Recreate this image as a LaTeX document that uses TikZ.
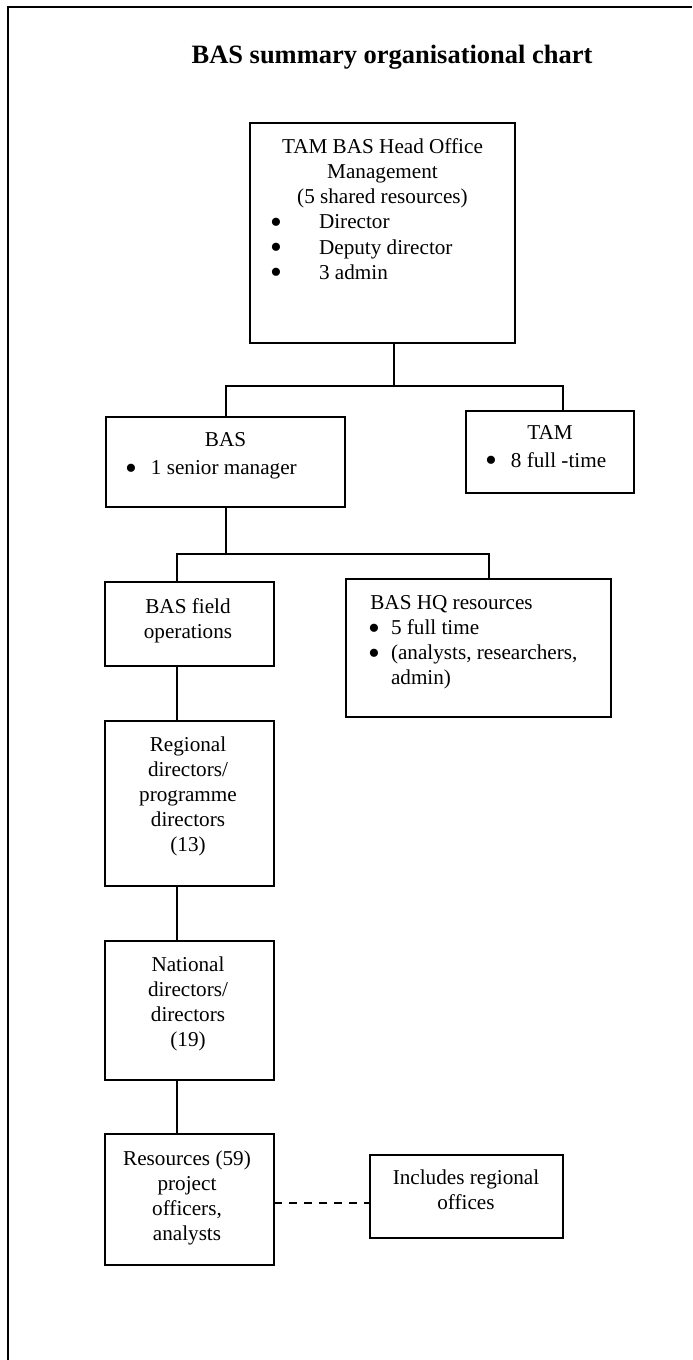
\documentclass[tikz,border=0pt]{standalone}
\usepackage{fontspec}
\setmainfont{Liberation Serif}
\usepackage{tikz}
\tikzstyle{orgbox}=[rectangle,draw=black,line width=0.8pt,inner sep=0pt,outer sep=0pt]
\tikzstyle{boxtext}=[inner sep=0pt,align=center,anchor=north,font=\fontsize{12}{14.2}\selectfont]
\tikzstyle{link}=[line width=0.6pt]
\tikzstyle{dashlink}=[line width=0.8pt,dash pattern=on 4.5pt off 4pt]
\newcommand{\bul}[1]{\makebox[#1][l]{\hspace*{-1.2pt}\smash{\raisebox{-2.6pt}{\scalebox{1.6}{\textbullet}}}}}

\begin{document}
\begin{tikzpicture}[x=0.5666pt,y=-0.5666pt]
  \useasboundingbox (0,0) rectangle (692,1360);
  % frame and title
  \draw[line width=1.1pt] (8,1360) -- (8,7) -- (692,7);
  \node[font=\fontsize{15}{18}\selectfont\bfseries,inner sep=0pt,anchor=base] (title) at (392,64) {BAS summary organisational chart};

  % boxes
  \node[orgbox,minimum width=150.1pt,minimum height=124.7pt] (head) at (382.5,233) {};
  \node[orgbox,minimum width=135.4pt,minimum height=51pt] (bas) at (225.5,462) {};
  \node[orgbox,minimum width=95.2pt,minimum height=46.5pt] (tam) at (550,452) {};
  \node[orgbox,minimum width=95.8pt,minimum height=47.6pt] (field) at (189.5,624) {};
  \node[orgbox,minimum width=150.1pt,minimum height=78.2pt] (hq) at (478.5,648) {};
  \node[orgbox,minimum width=95.8pt,minimum height=93.5pt] (regional) at (189.5,803.5) {};
  \node[orgbox,minimum width=95.8pt,minimum height=78.8pt] (national) at (189.5,1010.5) {};
  \node[orgbox,minimum width=95.8pt,minimum height=74.2pt] (res) at (189.5,1199.5) {};
  \node[orgbox,minimum width=109.4pt,minimum height=47pt] (incl) at (466.5,1196.5) {};

  % box texts
  \node[boxtext] (head-t) at (382.5,138.5) {TAM BAS Head Office\\Management\\(5 shared resources)\\
    \makebox[124.9pt][l]{\bul{26.5pt}Director}\\
    \makebox[124.9pt][l]{\bul{26.5pt}Deputy director}\\
    \makebox[124.9pt][l]{\bul{26.5pt}3 admin}};
  \node[boxtext] (bas-t) at (225.5,432) {BAS\\[1.7pt]\makebox[111.3pt][l]{\bul{13.4pt}1 senior manager}};
  \node[boxtext] (tam-t) at (550,425) {TAM\\[1.7pt]\makebox[71.1pt][l]{\bul{13.4pt}8 full -time}};
  \node[boxtext] (field-t) at (188,598.5) {BAS field\\operations};
  \node[boxtext,align=left,anchor=north west] (hq-t) at (370,595) {BAS HQ resources\\
    \bul{11.7pt}5 full time\\
    \bul{11.7pt}(analysts, researchers,\\
    \hspace*{11.7pt}admin)};
  \node[boxtext] (regional-t) at (188,736.5) {Regional\\directors/\\programme\\directors\\(13)};
  \node[boxtext] (national-t) at (188,956.5) {National\\directors/\\directors\\(19)};
  \node[boxtext] (res-t) at (187,1150.3) {Resources (59)\\project\\officers,\\analysts};
  \node[boxtext] (incl-t) at (466,1169.5) {Includes regional\\offices};

  % connectors
  \coordinate (busL) at (226,386);
  \coordinate (busM) at (394,386);
  \coordinate (busR) at (563,386);
  \draw[link] (head.south -| busM) -- (busM);
  \draw[link] (bas.north -| busL) -- (busL) -- (busR) -- (tam.north -| busR);

  \coordinate (subL) at (177,554);
  \coordinate (subM) at (226,554);
  \coordinate (subR) at (489,554);
  \draw[link] (bas.south -| subM) -- (subM);
  \draw[link] (field.north -| subL) -- (subL) -- (subR) -- (hq.north -| subR);
  \draw[link] (field.south -| subL) -- (regional.north -| subL);
  \draw[link] (regional.south -| subL) -- (national.north -| subL);
  \draw[link] (national.south -| subL) -- (res.north -| subL);

  \coordinate (dashy) at (0,1203);
  \draw[dashlink] (res.east |- dashy) -- (incl.west |- dashy);
\end{tikzpicture}
\end{document}
